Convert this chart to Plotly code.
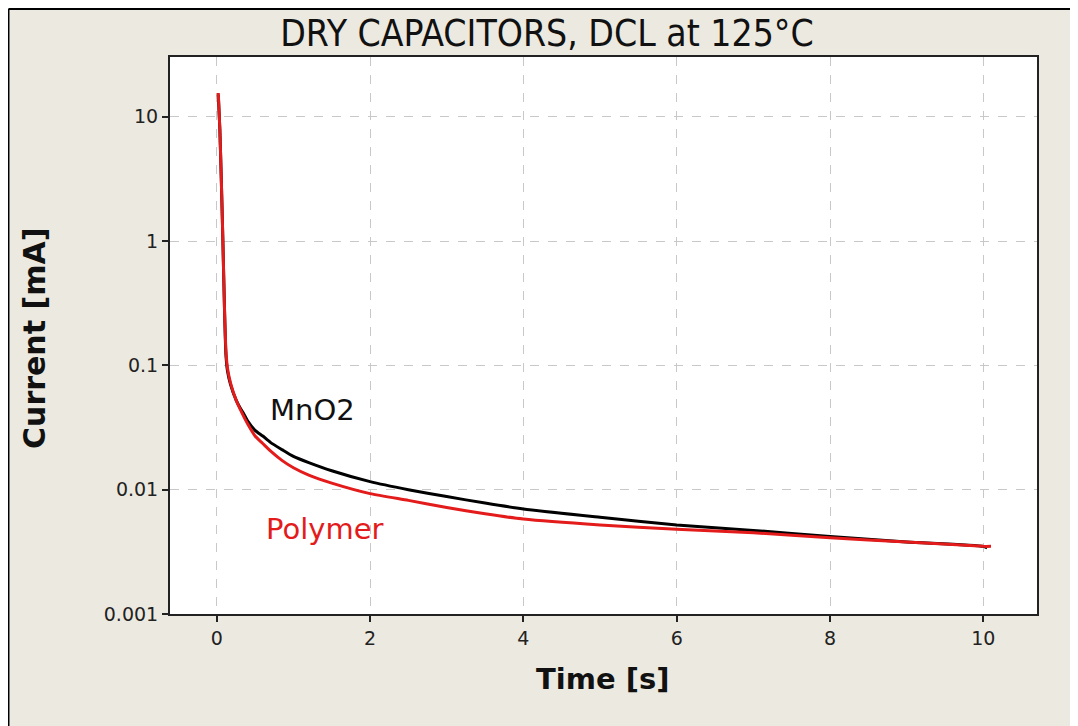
import plotly.graph_objects as go

# Leakage current vs time
mno2_time = [0.02, 0.04, 0.06, 0.08, 0.10, 0.12, 0.14, 0.18, 0.25, 0.3, 0.35, 0.4, 0.5, 0.6,
             0.7, 0.85, 1.0, 1.2, 1.5, 2.0, 2.5, 3.0, 3.5, 4.0, 5.0, 6.0, 7.0, 8.0, 9.0,
             10.0, 10.05]
mno2_current = [15, 8, 3, 1, 0.3, 0.12, 0.09, 0.07, 0.053, 0.046, 0.041, 0.036, 0.030, 0.027,
                0.024, 0.021, 0.0185, 0.0165, 0.0142, 0.0116, 0.0100, 0.0088, 0.0078,
                0.0070, 0.0060, 0.0052, 0.0047, 0.0042, 0.0038, 0.0035, 0.0034]

poly_time = [0.02, 0.04, 0.06, 0.08, 0.10, 0.12, 0.14, 0.18, 0.25, 0.3, 0.35, 0.4, 0.5, 0.6,
             0.7, 0.85, 1.0, 1.2, 1.5, 2.0, 2.5, 3.0, 3.5, 4.0, 5.0, 6.0, 7.0, 8.0, 9.0,
             10.0, 10.1]
poly_current = [15.5, 8, 3, 1, 0.3, 0.13, 0.095, 0.072, 0.053, 0.045, 0.039, 0.034, 0.027,
                0.0235, 0.0205, 0.0172, 0.0150, 0.0131, 0.0113, 0.0093, 0.0082, 0.0072,
                0.0064, 0.0058, 0.0052, 0.0048, 0.0045, 0.0041, 0.0038, 0.0035, 0.0035]

y_ticks = [0.001, 0.01, 0.1, 1, 10]
y_tick_text = ['0.001', '0.01', '0.1', '1', '10']
x_ticks = [0, 2, 4, 6, 8, 10]

BG = '#ECE9E0'
FONT = 'DejaVu Sans'
RED = '#E31B1B'

fig = go.Figure(
    layout=go.Layout(
        width=1078,
        height=726,
        title=go.layout.Title(
            text='DRY CAPACITORS, DCL at 125°C',
            x=0.5, xanchor='center', y=0.966, yanchor='middle',
            font=dict(family='DejaVu Sans Condensed, DejaVu Sans', size=37, color='#111')
        )
    )
)

fig.add_trace(go.Scatter(
    x=mno2_time, y=mno2_current, mode='lines',
    line=dict(color='black', width=3, shape='spline', smoothing=0.6),
    name='MnO2', showlegend=False
))
fig.add_trace(go.Scatter(
    x=poly_time, y=poly_current, mode='lines',
    line=dict(color=RED, width=3, shape='spline', smoothing=0.6),
    name='Polymer', showlegend=False
))

# Curve labels
fig.add_annotation(x=1.25, y=-1.357, xref='x', yref='y', text='MnO2', showarrow=False,
                   font=dict(family=FONT, size=29, color='#111'))
fig.add_annotation(x=1.41, y=-2.32, xref='x', yref='y', text='Polymer', showarrow=False,
                   font=dict(family=FONT, size=29, color=RED))

# Axis titles
fig.add_annotation(x=0.4994, y=-0.1167, xref='paper', yref='paper', text='<b>Time [s]</b>',
                   showarrow=False, xanchor='center', yanchor='middle',
                   font=dict(family=FONT, size=29, color='#111'))
fig.add_annotation(x=-0.1569, y=0.4955, xref='paper', yref='paper', text='<b>Current [mA]</b>',
                   showarrow=False, xanchor='center', yanchor='middle', textangle=-90,
                   font=dict(family=FONT, size=30, color='#111'))

# Window frame on the left and top edges
fig.add_shape(type='line', xref='paper', yref='paper', x0=-0.1863, x1=-0.1863, y0=-0.3, y1=1.0862,
              line=dict(color='black', width=2))
fig.add_shape(type='line', xref='paper', yref='paper', x0=-0.1863, x1=1.1, y0=1.0862, y1=1.0862,
              line=dict(color='black', width=2))

fig.update_layout(
    paper_bgcolor=BG,
    plot_bgcolor='white',
    margin=dict(l=162, r=49, t=49, b=120),
    font=dict(family=FONT, size=19, color='#222'),
    xaxis=dict(
        range=[-0.61, 10.7],
        tickvals=x_ticks,
        ticks='outside', ticklen=6, tickwidth=2, tickcolor='#222',
        showline=True, linecolor='#222', linewidth=2, mirror=True,
        showgrid=True, gridcolor='#C8C8C8', griddash='dash', gridwidth=1,
        zeroline=False,
        tickfont=dict(size=19)
    ),
    yaxis=dict(
        type='log',
        range=[-3, 1.48],
        tickvals=y_ticks,
        ticktext=y_tick_text,
        ticks='outside', ticklen=6, tickwidth=2, tickcolor='#222',
        showline=True, linecolor='#222', linewidth=2, mirror=True,
        showgrid=True, gridcolor='#C8C8C8', griddash='dash', gridwidth=1,
        zeroline=False,
        tickfont=dict(size=19)
    )
)

fig.write_html('out.html')
